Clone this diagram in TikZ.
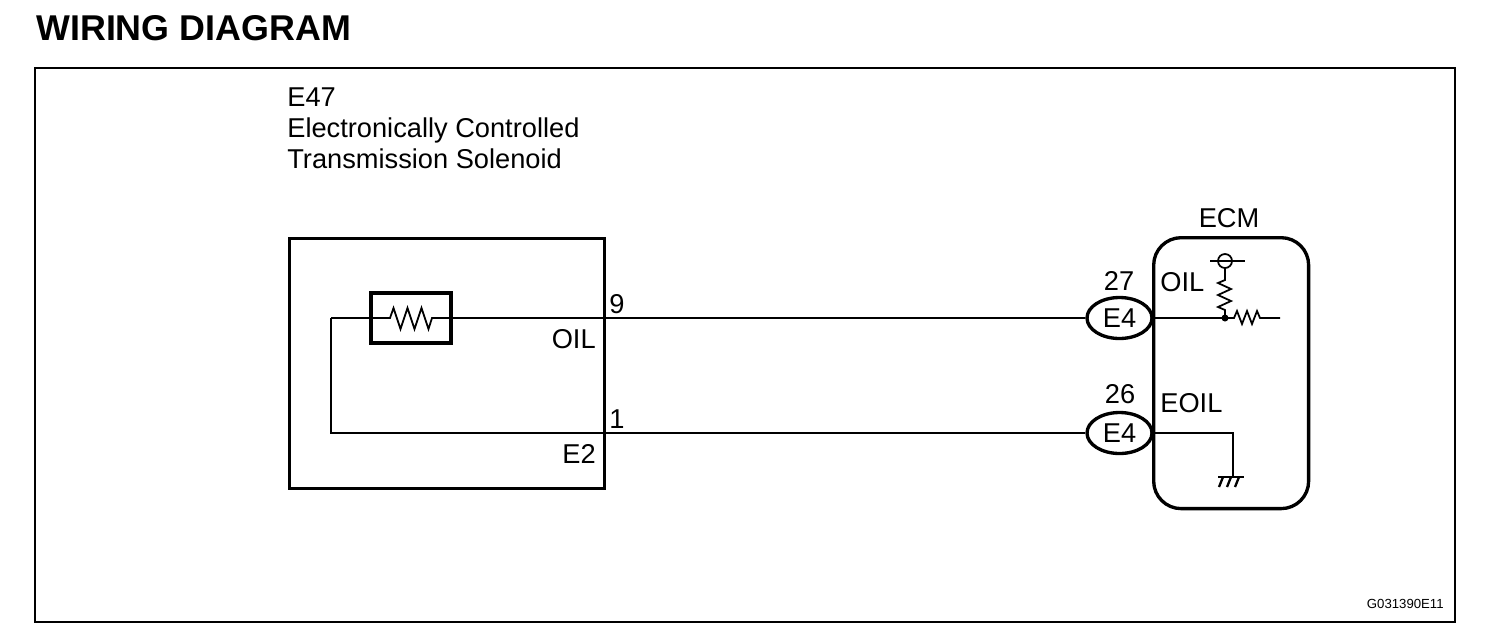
\documentclass[tikz,border=0pt]{standalone}
\usepackage{fontspec}
\setmainfont{Liberation Sans}
\usetikzlibrary{shapes.geometric}

\begin{document}
\begin{tikzpicture}[x=0.02cm,y=-0.02cm,
        lbl/.style={inner sep=0pt, font=\fontsize{15.5}{18}\selectfont},
        wire/.style={line width=1pt},
        frame/.style={draw, line width=1.9pt},
        plug/.style={frame, ellipse, inner sep=0pt, minimum width=1.3cm, minimum height=0.82cm, font=\fontsize{15.5}{18}\selectfont}]
        \useasboundingbox (0,0) rectangle (1504,640);
        \node[anchor=base west, inner sep=0pt, font=\bfseries\fontsize{20.4}{24}\selectfont] (title) at (36,40) {WIRING DIAGRAM};
        \draw[line width=1.3pt] (35,68) rectangle (1455,622);
        \node[lbl, anchor=base west] (e47) at (287,106) {E47};
        \node[lbl, anchor=base west] (e47name) at (287,137) {Electronically Controlled};
        \node[lbl, anchor=base west] (e47name2) at (287,168) {Transmission Solenoid};
        \node[frame, anchor=north west, minimum width=6.3cm, minimum height=5cm] (sol) at (288,237) {};
        \node[frame, minimum width=1.6cm, minimum height=1cm] (res) at (411,318) {};
        \node[frame, anchor=north west, rounded corners=0.55cm, minimum width=3.1cm, minimum height=5.42cm] (ecm) at (1152,236) {};
        \node[plug] (p27) at (1119.5,318) {E4};
        \node[plug] (p26) at (1119.5,433) {E4};
        \coordinate (bend) at (331,318);
        \coordinate (jn) at (1225,318);
        \draw[wire] (bend) -- (390,318) -- ++(3.5,-10) -- ++(7,21) -- ++(7,-21) -- ++(7,21) -- ++(7,-21) -- ++(7,21) -- (432,318) -- (p27.west);
        \draw[wire] (bend) -- (331,433) -- (p26.west);
        \node[lbl, anchor=base west] (pin9) at (609,313) {9};
        \node[lbl, anchor=base east] (oil) at (596,348) {OIL};
        \node[lbl, anchor=base west] (pin1) at (609,428) {1};
        \node[lbl, anchor=base east] (e2) at (596,463) {E2};
        \node[lbl, anchor=base] (ecmlbl) at (1229,227) {ECM};
        \node[lbl, anchor=base] (n27) at (1119,290) {27};
        \node[lbl, anchor=base west] (oil2) at (1160,291) {OIL};
        \node[lbl, anchor=base] (n26) at (1120,403) {26};
        \node[lbl, anchor=base west] (eoil) at (1160,412) {EOIL};
        \draw[wire] (p27.east) -- (jn) -- (1234,318) -- ++(3,-7) -- ++(5,13) -- ++(5,-13) -- ++(5,13) -- ++(5,-13) -- ++(3,7) -- (1280,318);
        \draw[wire] (jn) -- (1225,310) -- ++(-7,-3) -- ++(13,-6) -- ++(-13,-6) -- ++(13,-6) -- ++(-13,-6) -- ++(7,-3) -- (1225,268);
        \fill (jn) circle (2pt);
        \draw[wire] (1225,261) circle (0.14cm);
        \draw[wire] (1210,261) -- (1245,261);
        \draw[line width=1.3pt] (p26.east) -| (1233,477);
        \draw[line width=1.3pt] (1218,477) -- (1244,477);
        \draw[line width=1.3pt] (1223,477) -- (1219,487) (1231,477) -- (1227,487) (1239,477) -- (1235,487);
        \node[anchor=base east, inner sep=0pt, font=\fontsize{7.5}{9}\selectfont] (code) at (1444,608) {G031390E11};
\end{tikzpicture}
\end{document}
